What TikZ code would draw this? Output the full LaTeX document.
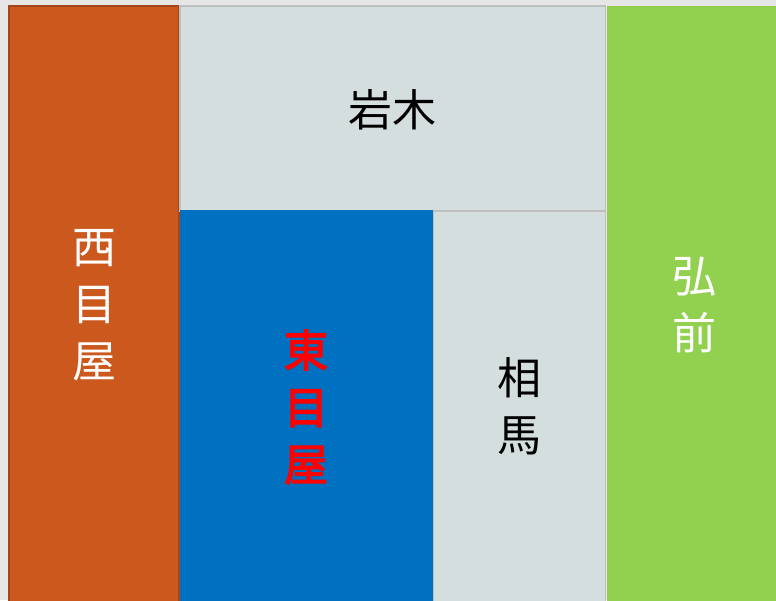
\documentclass[tikz,border=0pt]{standalone}
\usepackage{fontspec}
\newfontfamily\cjk{Noto Sans CJK JP}
\newfontfamily\cjkfb[FakeBold=3.2]{Noto Sans CJK JP}
\definecolor{bgc}{HTML}{E6E6E6}
\definecolor{orangef}{HTML}{CB581D}
\definecolor{oranged}{HTML}{A5461A}
\definecolor{grayf}{HTML}{D5DEDE}
\definecolor{grayd}{HTML}{BFBFBF}
\definecolor{bluef}{HTML}{0070C0}
\definecolor{greenf}{HTML}{92D050}
\tikzset{
  area/.style={inner sep=0pt, outer sep=0pt, line width=1.5pt},
  lbl/.style={font=\cjk\fontsize{44}{57}\selectfont, align=center, inner sep=0pt}
}
\begin{document}
\begin{tikzpicture}[x=1pt,y=1pt]
\fill[bgc] (0,0) rectangle (776,600);
\useasboundingbox (0,0) rectangle (776,600);
% west
\filldraw[area, fill=orangef, draw=oranged] (8.75,-5) rectangle (179,594);
\node[lbl, text=white] (nishi) at (94,295) {西\\目\\屋};
% iwaki
\filldraw[area, fill=grayf, draw=grayd] (179.75,389) rectangle (605.5,594);
\node[lbl, text=black] (iwaki) at (392,490) {岩木};
% higashi
\fill[bluef] (179.75,-5) rectangle (432.5,390);
\node[lbl, text=red, font=\cjkfb\fontsize{44}{57}\selectfont] (higashi) at (306,193) {東\\目\\屋};
% souma
\filldraw[area, fill=grayf, draw=grayd] (433.25,-5) rectangle (605.5,389);
\node[lbl, text=black] (souma) at (519,194) {相\\馬};
% hirosaki
\fill[greenf] (606.5,-5) rectangle (776,594);
\node[lbl, text=white] (hiro) at (694,295) {弘\\前};
\end{tikzpicture}
\end{document}
